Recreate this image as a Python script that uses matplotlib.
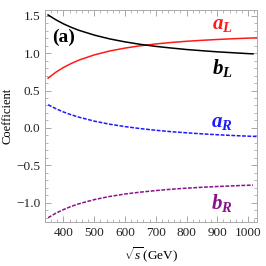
import numpy as np
import matplotlib
matplotlib.use("Agg")
from matplotlib import pyplot as plt
from matplotlib.ticker import MultipleLocator

# Valores
sL = [350, 375, 400, 425, 450, 500, 550, 600, 650, 700, 750, 800, 850, 900, 950, 1000, 1030]
aL = [0.665, 0.744, 0.808, 0.861, 0.906, 0.976, 1.028, 1.067, 1.098, 1.122, 1.142,
      1.158, 1.171, 1.182, 1.192, 1.200, 1.204]

sbL = [350, 375, 400, 425, 450, 500, 550, 600, 650, 700, 750, 800, 850, 900, 950, 1000, 1016]
bL = [1.51, 1.446, 1.391, 1.345, 1.305, 1.241, 1.190, 1.150, 1.117, 1.090, 1.068,
      1.048, 1.032, 1.017, 1.005, 0.993, 0.990]

aR = [0.31, 0.258, 0.213, 0.176, 0.144, 0.091, 0.050, 0.018, -0.009, -0.031, -0.050,
      -0.065, -0.079, -0.091, -0.101, -0.110, -0.115]

bR = [-1.20, -1.140, -1.091, -1.049, -1.014, -0.958, -0.916, -0.883, -0.858, -0.837,
      -0.819, -0.805, -0.793, -0.783, -0.774, -0.766, -0.764]

xticks = [400, 500, 600, 700, 800, 900, 1000]
yticks = [-1.0, -0.5, 0.0, 0.5, 1.0, 1.5]

plt.rcParams["font.family"] = ["Liberation Serif", "DejaVu Serif"]
plt.rcParams["mathtext.fontset"] = "custom"
plt.rcParams["mathtext.rm"] = "Liberation Serif"
plt.rcParams["mathtext.it"] = "Liberation Serif:italic"
plt.rcParams["mathtext.bf"] = "Liberation Serif:bold:italic"

fig = plt.figure(figsize=(2.66, 2.66), dpi=100)
ax = fig.add_axes([45 / 266, 1 - 222 / 266, 212 / 266, 212 / 266])

ax.plot(sL, aL, color="#ff1a1a", lw=1.1)
ax.plot(sbL, bL, color="black", lw=1.1)
ax.plot(sL, aR, color="#1a1aff", lw=1.1, ls=(0, (2.5, 1)))
ax.plot(sbL, bR, color="#8b108b", lw=1.1, ls=(0, (2.5, 1)))

ax.set_xlim(340, 1029)
ax.set_ylim(-1.257, 1.576)
ax.set_xticks(xticks)
ax.set_yticks(yticks)
ax.set_yticklabels(["\u22121.0", "\u22120.5", "0.0", "0.5", "1.0", "1.5"])
ax.xaxis.set_minor_locator(MultipleLocator(20))
ax.yaxis.set_minor_locator(MultipleLocator(0.1))
ax.tick_params(which="both", direction="in", top=True, right=True, colors="#999999",
               labelcolor="#222222", labelsize=9.5)
ax.tick_params(which="major", length=4, width=0.6)
ax.tick_params(which="minor", length=2, width=0.5)
for sp in ax.spines.values():
    sp.set_color("#aaaaaa")
    sp.set_linewidth(0.7)

ax.set_xlabel(r"$\sqrt{s}\,$(GeV)", fontsize=9.5, labelpad=5)
ax.set_ylabel("Coefficient", fontsize=9, labelpad=2)

tf = ax.transAxes
ax.text(0.035, 0.87, "(a)", transform=tf, fontsize=14, fontweight="bold", va="center", ha="left")
ax.text(0.835, 0.93, r"$\mathbf{a}_{\mathbf{L}}$", transform=tf, fontsize=15, color="#ff1a1a", ha="center", va="center")
ax.text(0.835, 0.726, r"$\mathbf{b}_{\mathbf{L}}$", transform=tf, fontsize=15, color="black", ha="center", va="center")
ax.text(0.835, 0.47, r"$\mathbf{a}_{\mathbf{R}}$", transform=tf, fontsize=15, color="#1a1aff", ha="center", va="center")
ax.text(0.835, 0.09, r"$\mathbf{b}_{\mathbf{R}}$", transform=tf, fontsize=15, color="#8b108b", ha="center", va="center")

plt.savefig("out.png", dpi=100)
